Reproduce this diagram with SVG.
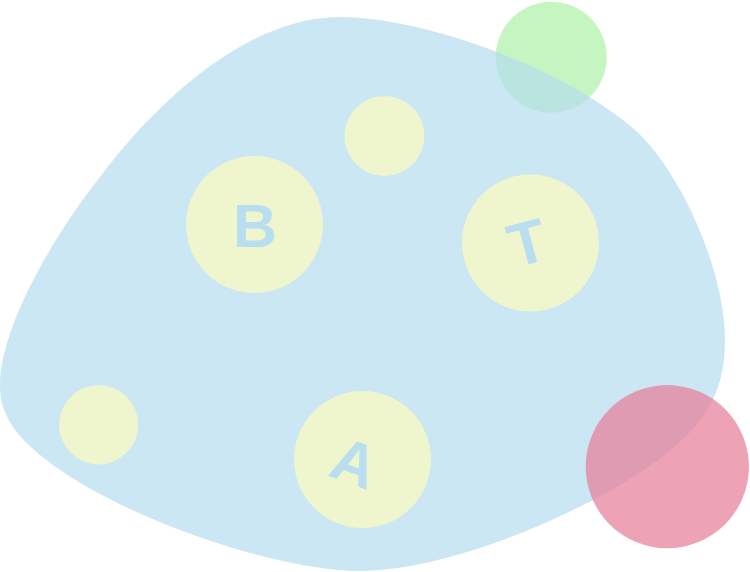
<svg xmlns="http://www.w3.org/2000/svg" width="750" height="572" viewBox="0 0 750 572">
<style>
.yc{fill:#eff6cd}
.lt{font-family:"Liberation Sans",Arial,sans-serif;font-weight:bold;font-size:61px;fill:#b9def0;text-anchor:middle}
</style>
<rect width="750" height="572" fill="#ffffff"/>
<g id="green"><circle cx="551.2" cy="57.2" r="55.5" fill="#c5f5c0"/></g>
<g id="blob"><path fill="#b5ddee" fill-opacity="0.7" d="M340,17 C420,17 560,65 635,130 C680,170 725,270 725,340 C725,400 700,440 608,492 C530,535 430,571 360,571 C280,571 120,520 40,455 C10,430 0,410 0,385 C0,330 50,240 100,177 C160,97 250,17 340,17 Z"/></g>
<g id="small-top"><circle class="yc" cx="384.5" cy="136" r="40"/></g>
<g id="small-left"><circle class="yc" cx="98.7" cy="424.8" r="39.6"/></g>
<g id="node-B"><circle class="yc" cx="254.5" cy="224.5" r="68.5"/><text class="lt" x="255" y="247">B</text></g>
<g id="node-T"><circle class="yc" cx="530.5" cy="243" r="68.5"/><text class="lt" transform="translate(527,242) rotate(-15)" x="0" y="22">T</text></g>
<g id="node-A"><circle class="yc" cx="362.5" cy="459.5" r="68.5"/><text class="lt" transform="translate(355,462) rotate(20)" x="0" y="22">A</text></g>
<g id="pink"><circle cx="667.3" cy="466.7" r="81.6" fill="#e77a95" fill-opacity="0.7"/></g>
</svg>
